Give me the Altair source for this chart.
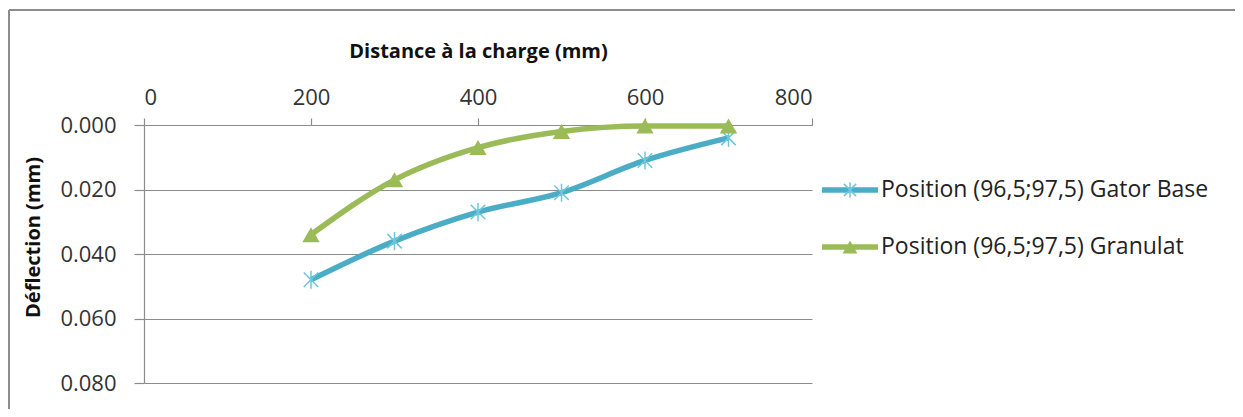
import altair as alt
import pandas as pd

# ---- data ----
distance = [200, 300, 400, 500, 600, 700]
gator_base = [0.048, 0.036, 0.027, 0.021, 0.011, 0.004]
granulat = [0.034, 0.017, 0.007, 0.002, 0.0003, 0.0003]
series_names = ["Position (96,5;97,5) Gator Base", "Position (96,5;97,5) Granulat"]
x_ticks = [0, 200, 400, 600, 800]
y_ticks = [0.0, 0.02, 0.04, 0.06, 0.08]

BLUE = "#4BACC6"
GREEN = "#9BBB59"
FONT = "Open Sans"

df = pd.concat([
    pd.DataFrame({"d": distance, "v": gator_base, "s": series_names[0]}),
    pd.DataFrame({"d": distance, "v": granulat, "s": series_names[1]}),
])
leg = pd.DataFrame({"s": series_names, "i": list(range(len(series_names)))})

W, H = 668, 258
color = alt.Color("s:N", scale=alt.Scale(domain=series_names, range=[BLUE, GREEN]), legend=None)

x = alt.X("d:Q", scale=alt.Scale(domain=[0, 800], nice=False),
          axis=alt.Axis(orient="top", values=x_ticks, grid=False, title="Distance à la charge (mm)",
                        titleX=W / 2, titleY=-74, titleAnchor="middle", titleBaseline="middle",
                        tickSize=7, labelPadding=9, format="d"))
y = alt.Y("v:Q", scale=alt.Scale(domain=[0, 0.08], reverse=True, nice=False),
          axis=alt.Axis(values=y_ticks, format=".3f", grid=True, title="Déflection (mm)",
                        titleX=-111, titleY=H / 2 - 17, titleAngle=270, titleAlign="center",
                        titleBaseline="middle", tickSize=10, labelPadding=18))

ASTER = "M-1,-1L1,1M-1,1L1,-1M0,-1.25L0,1.25"

lines = alt.Chart(df).mark_line(interpolate="monotone", strokeWidth=5.5, clip=False).encode(x=x, y=y, color=color)
stars = alt.Chart(df).transform_filter(alt.datum.s == series_names[0]).mark_point(
    shape=ASTER, filled=False, strokeWidth=1.5, size=210, opacity=1, color="#6EC6DD", clip=False).encode(x="d:Q", y="v:Q")
tris = alt.Chart(df).transform_filter(alt.datum.s == series_names[1]).mark_point(
    shape="triangle-up", filled=True, size=300, opacity=1, color=GREEN, clip=False).encode(x="d:Q", y="v:Q")

# ---- legend (right of plot) ----
legbase = alt.Chart(leg).transform_calculate(py="65 + 57 * datum.i")
leg_lines = legbase.mark_rule(strokeWidth=5.5, clip=False).encode(
    x=alt.value(678), x2=alt.value(734), y=alt.Y("py:Q", scale=None), color=color)
leg_star = legbase.transform_filter(alt.datum.i == 0).mark_point(
    shape=ASTER, filled=False, strokeWidth=1.5, size=150, opacity=1, color="#6EC6DD", clip=False).encode(
    x=alt.value(706), y=alt.Y("py:Q", scale=None))
leg_tri = legbase.transform_filter(alt.datum.i == 1).mark_point(
    shape="triangle-up", filled=True, size=220, opacity=1, color=GREEN, clip=False).encode(
    x=alt.value(706), y=alt.Y("py:Q", scale=None))
leg_text = legbase.mark_text(align="left", baseline="middle", font=FONT, fontSize=23, color="#222222",
                             clip=False).encode(
    x=alt.value(737), y=alt.Y("py:Q", scale=None), text="s:N")

# ---- outer chart border (partially visible in reference) ----
border_top = alt.Chart(leg).mark_rule(color="#8c8c8c", strokeWidth=2, clip=False).encode(
    x=alt.value(-135), x2=alt.value(1100), y=alt.value(-115))
border_left = alt.Chart(leg).mark_rule(color="#8c8c8c", strokeWidth=2, clip=False).encode(
    x=alt.value(-135), y=alt.value(-115), y2=alt.value(290))

chart = alt.layer(
    lines, stars, tris, leg_lines, leg_star, leg_tri, leg_text, border_top, border_left
).properties(
    width=W, height=H,
    autosize=alt.AutoSizeParams(type="none"),
    padding={"left": 136, "top": 117, "right": 1227 - 136 - W, "bottom": 401 - 117 - H},
).configure(background="white").configure_view(strokeWidth=0).configure_axis(
    labelFont=FONT, labelFontSize=22, labelColor="#333333",
    titleFont=FONT, titleFontSize=20, titleFontWeight="bold", titleColor="#111111",
    domainColor="#8c8c8c", tickColor="#8c8c8c", gridColor="#8c8c8c",
    domainWidth=1.2, tickWidth=1.2, gridWidth=1.2,
)

chart.save("out.html", embed_options={"renderer": "svg", "actions": False})
